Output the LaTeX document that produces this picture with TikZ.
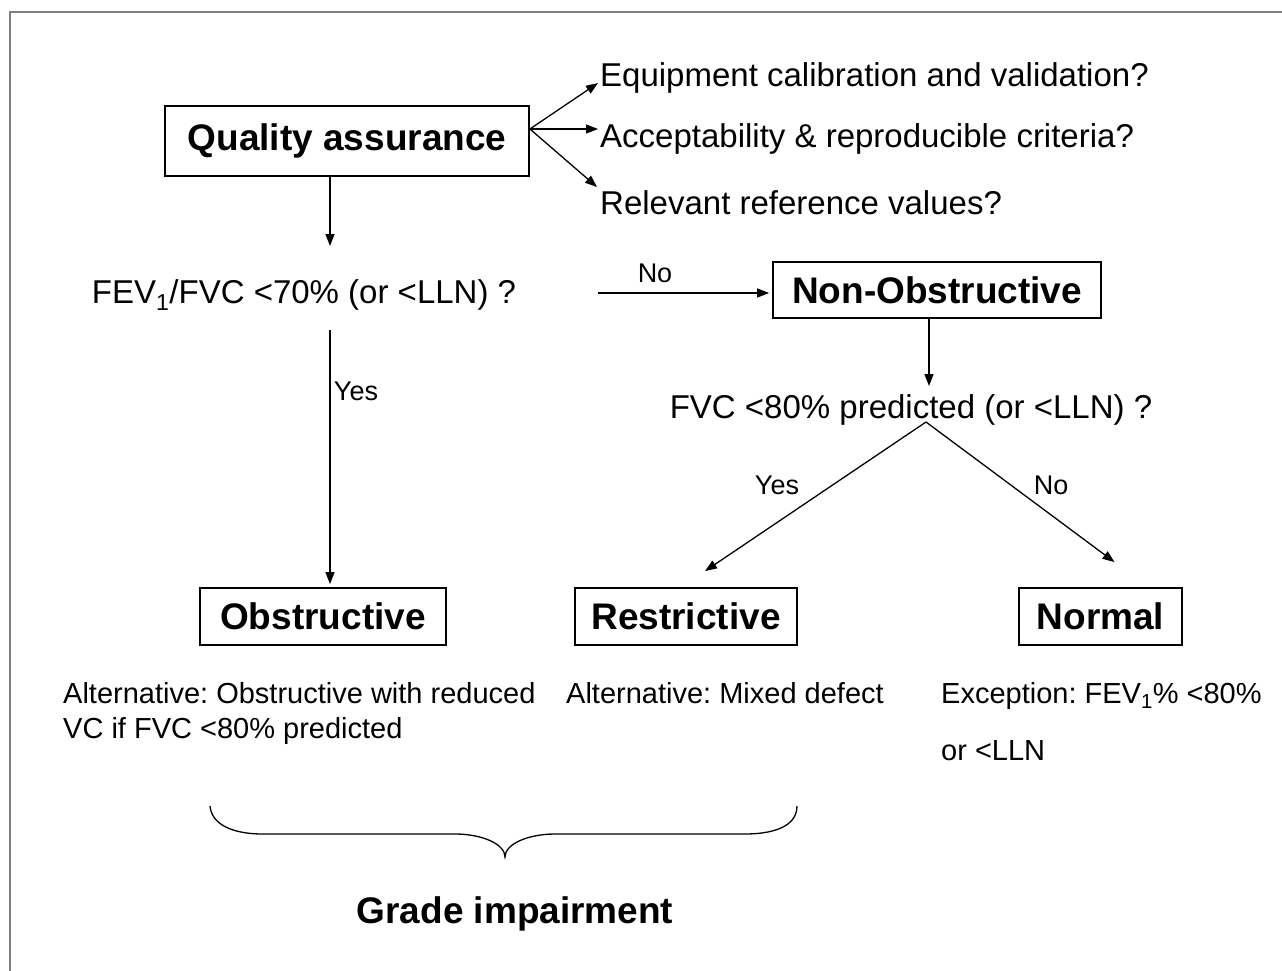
\documentclass[tikz,border=0pt]{standalone}
\usepackage{fontspec}
\setmainfont{Liberation Sans}
\frenchspacing
\usetikzlibrary{arrows.meta}
\begin{document}
\begin{tikzpicture}[x=1pt,y=-1pt,
  box/.style={draw, line width=1.8pt, inner sep=0pt, font=\fontsize{37}{44}\selectfont\bfseries},
  txt/.style={inner sep=0pt, font=\fontsize{33}{40}\selectfont},
  small/.style={inner sep=0pt, font=\fontsize{29}{35}\selectfont},
  lbl/.style={inner sep=0pt, font=\fontsize{27}{32}\selectfont},
  arr/.style={line width=1.3pt, -{Triangle[length=12pt,width=9pt]}}]
\useasboundingbox (0,0) rectangle (1282,971);
\draw[gray, line width=2.5pt] (1282,12) -- (10,12) -- (10,971);
% quality assurance
\node[box, minimum width=364pt, minimum height=70pt] (qa) at (347,141){Quality assurance};
\node[txt, anchor=base west] (eqp) at (600,87){Equipment calibration and validation?};
\node[txt, anchor=base west] (acc) at (600,148){Acceptability \& reproducible criteria?};
\node[txt, anchor=base west] (rel) at (600,214){Relevant reference values?};
\draw[arr]([yshift=12pt]qa.east) -- ([xshift=-2pt,yshift=4pt]eqp.base west);
\draw[arr]([yshift=12pt]qa.east) -- ([xshift=-2pt,yshift=19pt]acc.base west);
\draw[arr]([yshift=12pt]qa.east) -- ([xshift=-3pt,yshift=27pt]rel.base west);
% first question
\node[txt, anchor=base] (fev) at (304,303){FEV\textsubscript{1}/FVC <70\% (or <LLN) ?};
\draw[arr]([xshift=-17pt]qa.south) -- ([xshift=26pt,yshift=57pt]fev.base);
\node[box, minimum width=328pt, minimum height=56pt] (nonobs) at (937,290){Non-Obstructive};
\draw[arr]([xshift=294pt,yshift=10pt]fev.base) -- ([xshift=-3pt,yshift=-3pt]nonobs.west);
\node[lbl, anchor=base] (no1) at (655,282){No};
% second question
\node[txt, anchor=base] (fvc) at (911,418){FVC <80\% predicted (or <LLN) ?};
\draw[arr]([xshift=-8pt]nonobs.south) -- ([xshift=18pt,yshift=32pt]fvc.base);
\coordinate (split) at ([xshift=15pt,yshift=-4pt]fvc.base);
% outcomes
\node[box, minimum width=246pt, minimum height=57pt] (obs) at (323,616.5){Obstructive};
\node[box, minimum width=222pt, minimum height=57pt] (res) at (686,616.5){Restrictive};
\node[box, minimum width=163pt, minimum height=57pt] (nrm) at (1100.5,616.5){Normal};
\draw[arr]([xshift=26pt,yshift=-27pt]fev.base) -- ([xshift=7pt,yshift=3pt]obs.north);
\node[lbl, anchor=base] (yes1) at (356,400){Yes};
\draw[arr](split) -- ([xshift=19pt,yshift=16pt]res.north);
\draw[arr](split) -- ([xshift=14pt,yshift=25pt]nrm.north);
\node[lbl, anchor=base] (yes2) at (777,494){Yes};
\node[lbl, anchor=base] (no2) at (1051,494){No};
% notes
\node[small, anchor=base west] (alt1) at (63,703){Alternative: Obstructive with reduced};
\node[small, anchor=base west] (alt2) at (63,738){VC if FVC <80\% predicted};
\node[small, anchor=base west] (mix) at (566,703){Alternative: Mixed defect};
\node[small, anchor=base west] (exc1) at (941,703){Exception: FEV\textsubscript{1}\% <80\%};
\node[small, anchor=base west] (exc2) at (941,760){or <LLN};
% brace
\draw[line width=1.3pt] (210,806) .. controls (212,828) and (240,834) .. (262,834) -- (455,834)
  .. controls (482,834) and (505,844) .. (505,857) .. controls (505,844) and (528,834) .. (555,834)
  -- (745,834) .. controls (770,834) and (797,828) .. (797,806);
\node[box, draw=none, anchor=base] (grade) at (515,923){Grade impairment};
\end{tikzpicture}
\end{document}
